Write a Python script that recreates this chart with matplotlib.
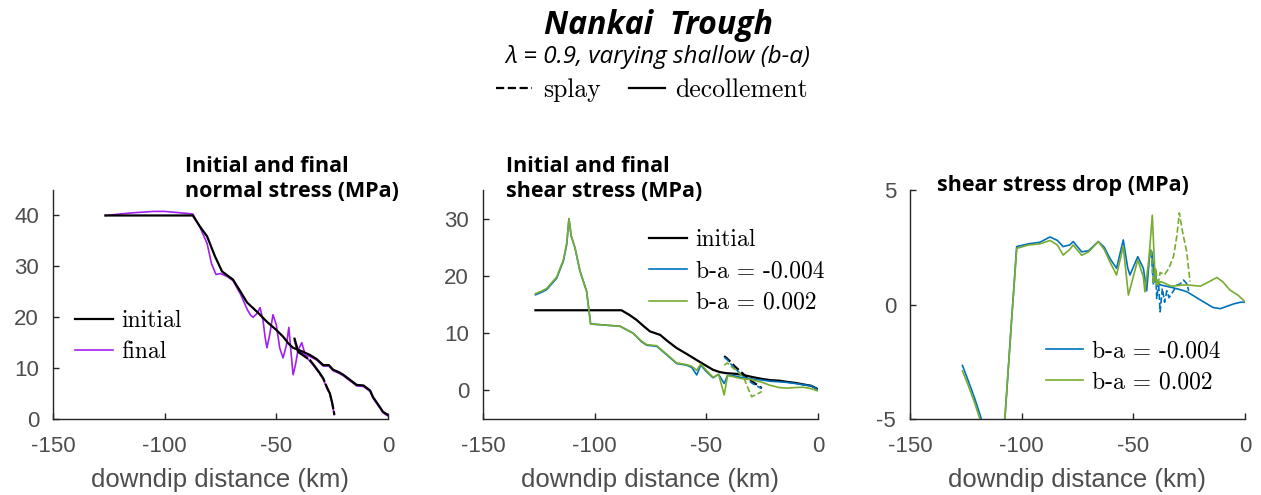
import numpy as np
import matplotlib
matplotlib.use("Agg")
import matplotlib.pyplot as plt
from matplotlib.lines import Line2D

plt.rcParams['axes.unicode_minus'] = False
plt.rcParams['font.family'] = ['Liberation Sans', 'DejaVu Sans']

# colours
c_blue = '#0072BD'
c_green = '#77AC30'
c_purple = '#A020F0'

# ---- panel 1: normal stress (MPa)
ns_x_init = [-126.5, -110, -100, -87.4, -84, -81, -77.5, -74.3, -69.4, -66, -63.1, -58, -54.2, -50, -47, -44.5, -42.5,
             -38.5, -35, -32, -29, -26.5, -24.6, -22, -20, -17, -14, -11, -9.5, -8, -6.7, -4.5, -2.2, 0]
ns_init = [40, 40, 40, 40, 37.7, 35.9, 32.0, 29.0, 27.4, 25.0, 22.9, 20.8, 19.1, 17.5, 16.2, 14.8, 14.0,
           13.3, 12.6, 11.8, 10.6, 10.6, 9.7, 9.2, 8.7, 7.7, 6.7, 6.6, 6.1, 5.6, 4.3, 2.9, 1.4, 0.8]
ns_x_final = [-126.5, -115, -105, -100, -95, -87.4, -84, -81, -79, -77, -75, -72, -69.4, -66, -63, -61.5, -60.4,
              -58.5, -57.3, -56, -55, -54.2, -53, -51.5, -50, -48.5, -47, -45.5, -44.4, -43.4, -42.5, -41.5,
              -40.3, -38.6, -37, -35, -32, -29, -26.5, -24.6, -22, -20, -17, -14, -11, -9.5, -8, -6.7, -4.5, -2.2, 0]
ns_final = [40, 40.5, 40.8, 40.8, 40.6, 40.3, 37.5, 34.5, 30.5, 28.4, 28.6, 28.0, 27.2, 24.5, 21.5, 20.4, 20.0,
            20.8, 21.9, 19.5, 16.0, 14.0, 16.5, 20.5, 18.5, 14.0, 12.0, 14.5, 18.0, 13.0, 8.7, 10.5,
            13.5, 15.0, 12.5, 12.3, 11.6, 10.4, 10.4, 9.5, 9.0, 8.5, 7.5, 6.5, 6.4, 5.9, 5.4, 4.1, 2.7, 1.2, 0.6]
ns_x_splay = [-42, -41, -40.3, -38, -35, -33, -31, -29, -27.4, -26, -25, -24]
ns_init_splay = [16, 14.5, 13.2, 12.5, 11.6, 10.5, 9.3, 8.0, 6.3, 5.0, 3.2, 0.8]
ns_final_splay = [15.5, 14.0, 13.5, 12.8, 11.4, 10.3, 9.1, 7.8, 6.1, 4.8, 3.0, 0.7]

# ---- panel 2: shear stress (MPa)
ss_x_init = [-126.5, -110, -100, -88, -84.5, -81.2, -78, -75.2, -70.7, -67, -63.3, -58.5, -54.3, -50.5, -47, -44,
             -41, -37, -33.5, -29, -25, -21.5, -17.5, -14, -10, -6.7, -3, 0]
ss_init = [14, 14, 14, 14, 13.2, 12.3, 11.2, 10.3, 9.7, 8.5, 7.4, 6.3, 5.3, 4.4, 3.6, 3.2,
           3.0, 2.9, 2.7, 2.3, 2.0, 1.8, 1.7, 1.5, 1.3, 1.05, 0.8, 0.2]
ss_x_final = [-126.5, -124, -121.5, -117, -114, -112.5, -111.5, -110.5, -108.8, -106.6, -103.6, -101.8, -95, -88.6,
              -82.8, -79, -76.7, -72.2, -67.7, -63.3, -58.8, -56.5, -54.3, -52.5, -50, -47, -44.5, -42, -40.5,
              -38, -34.9, -30, -25, -21.5, -17.5, -14, -10, -6.7, -3, 0]
ss_final_neg = [16.7, 17.1, 17.6, 19.6, 22.6, 25.5, 30, 27, 24.9, 20.9, 17.3, 11.6, 11.4, 11.2,
                10.0, 8.5, 7.9, 7.7, 6.2, 4.7, 4.4, 4.0, 2.7, 4.4, 3.3, 2.2, 2.8, 1.2, 2.6,
                2.6, 2.3, 2.0, 1.8, 1.6, 1.5, 1.4, 1.2, 1.0, 0.8, 0.1]
ss_final_pos = [16.9, 17.3, 17.8, 19.8, 22.8, 25.7, 30, 27, 24.9, 20.9, 17.3, 11.6, 11.4, 11.2,
                10.0, 8.6, 8.0, 7.8, 6.3, 4.8, 4.5, 4.2, 3.5, 4.6, 3.5, 2.3, 2.8, -0.8, 2.6,
                2.4, 2.1, 1.9, 1.4, 0.9, 0.5, 0.4, 0.5, 0.55, 0.3, -0.1]
ss_x_splay = [-42, -40.5, -39, -37, -35, -33, -31.9, -29.7, -27, -25.2]
ss_init_splay = [6.0, 5.5, 4.9, 4.1, 3.4, 2.7, 2.3, 1.6, 0.9, 0.4]
ss_neg_splay = [5.8, 5.3, 4.6, 3.8, 3.0, 2.3, 2.0, 1.3, 0.7, 0.3]
ss_pos_splay = [4.4, 4.8, 4.2, 3.6, 2.9, 2.0, 0.9, -1.1, -0.6, -0.2]

# ---- panel 3: shear stress drop (MPa)
sd_x_neg = [-126.5, -124, -121, -118, -112.5, -107.5, -104.5, -102.2, -97, -91.8, -87.3, -84, -81.4, -78.5, -76.9,
            -73.1, -70, -65.7, -63, -60.4, -57.5, -54.5, -52.5, -51.5, -48, -45.5, -44, -42.5, -41.7, -40.3,
            -37.6, -33, -29, -26, -20, -14.3, -11, -5, -2, 0]
sd_neg = [-2.66, -3.3, -4.1, -5.0, -10, -5, -0.7, 2.53, 2.65, 2.72, 2.95, 2.8, 2.53, 2.6, 2.75,
          2.3, 2.35, 2.75, 2.5, 2.0, 1.58, 2.82, 1.6, 1.29, 2.09, 1.58, 0.6, 2.38, 2.3, 1.0,
          0.85, 0.75, 0.65, 0.56, 0.2, -0.13, -0.18, 0.03, 0.1, 0.1]
sd_x_pos = [-126.5, -124, -121, -118, -112.5, -107.5, -104.5, -102.2, -97, -91.8, -87.3, -84, -81.4, -78.5, -76.9,
            -73.1, -70, -65.7, -63, -60.4, -57.5, -54.5, -52.2, -48, -45.5, -44.8, -43, -41.5, -40.3, -39.5,
            -37.6, -33, -28, -25, -20, -16, -12.6, -10, -6.7, -3, 0]
sd_pos = [-2.9, -3.5, -4.3, -5.2, -10, -5, -0.7, 2.45, 2.6, 2.65, 2.8, 2.6, 2.16, 2.4, 2.6,
          2.15, 2.3, 2.75, 2.4, 1.85, 1.29, 2.53, 0.41, 1.95, 1.2, 0.55, 2.0, 3.9, 1.3, 0.85,
          1.0, 0.8, 0.85, 0.85, 0.8, 1.0, 1.18, 1.0, 0.63, 0.4, 0.12]
sd_x_splay_neg = [-42, -41, -40, -39.5, -38.7, -38, -37, -36, -35, -34, -32, -30.5, -29, -27.5, -26, -25.2]
sd_neg_splay = [2.3, 0.85, 1.5, 0.26, 1.0, -0.32, 0.7, 0.1, 0.6, 0.3, 0.6, 0.85, 0.9, 1.07, 0.9, 0.6]
sd_x_splay_pos = [-42, -41, -40, -39, -38, -36, -34, -32, -30.5, -29.4, -28, -26.1, -24.6]
sd_pos_splay = [2.4, 0.9, 1.6, 0.8, 1.4, 1.3, 1.6, 2.1, 3.0, 4.0, 3.2, 2.3, 1.0]

leg_font = {'family': 'cmr10', 'size': 17}

fig = plt.figure(figsize=(12.61, 4.95), dpi=100)
ax1 = fig.add_axes([0.042, 0.1535, 0.2657, 0.4626])
ax2 = fig.add_axes([0.383, 0.1535, 0.2657, 0.4626])
ax3 = fig.add_axes([0.7216, 0.1535, 0.2657, 0.4626])

leg_kw = dict(loc='center left', frameon=False, prop=leg_font, borderpad=0, borderaxespad=0,
              handlelength=1.6, handletextpad=0.35, labelspacing=0.4)

# normal stress
ax1.plot(ns_x_final, ns_final, color=c_purple, lw=1.2, label='final')
ax1.plot(ns_x_splay, ns_final_splay, color=c_purple, lw=1.2, dashes=(12, 1))
ax1.plot(ns_x_init, ns_init, color='k', lw=1.6, label='initial')
ax1.plot(ns_x_splay, ns_init_splay, color='k', lw=1.6, dashes=(12, 1))
ax1.set_ylim(0, 45)
ax1.set_yticks([0, 10, 20, 30, 40])
h, l = ax1.get_legend_handles_labels()
ax1.legend(h[::-1], l[::-1], bbox_to_anchor=(0.065, 0.36), **leg_kw)

# shear stress
ax2.plot(ss_x_init, ss_init, color='k', lw=1.6, label='initial')
ax2.plot(ss_x_splay, ss_init_splay, color='k', lw=1.6, ls='--')
ax2.plot(ss_x_final, ss_final_neg, color=c_blue, lw=1.2, label='b-a = -0.004')
ax2.plot(ss_x_splay, ss_neg_splay, color=c_blue, lw=1.2, ls='--')
ax2.plot(ss_x_final, ss_final_pos, color=c_green, lw=1.2, label='b-a = 0.002')
ax2.plot(ss_x_splay, ss_pos_splay, color=c_green, lw=1.2, ls='--')
ax2.set_ylim(-5, 35)
ax2.set_yticks([0, 10, 20, 30])
ax2.legend(bbox_to_anchor=(0.497, 0.645), **leg_kw)

# shear stress drop
ax3.plot(sd_x_neg, sd_neg, color=c_blue, lw=1.2, label='b-a = -0.004')
ax3.plot(sd_x_splay_neg, sd_neg_splay, color=c_blue, lw=1.2, ls='--')
ax3.plot(sd_x_pos, sd_pos, color=c_green, lw=1.2, label='b-a = 0.002')
ax3.plot(sd_x_splay_pos, sd_pos_splay, color=c_green, lw=1.2, ls='--')
ax3.set_ylim(-5, 5)
ax3.set_yticks([-5, 0, 5])
ax3.legend(bbox_to_anchor=(0.405, 0.228), **leg_kw)

for ax in (ax1, ax2, ax3):
    ax.set_xlim(-150, 0)
    ax.set_xticks([-150, -100, -50, 0])
    ax.spines['top'].set_visible(False)
    ax.spines['right'].set_visible(False)
    for s in ('left', 'bottom'):
        ax.spines[s].set_color('#262626')
        ax.spines[s].set_linewidth(1.0)
    ax.tick_params(direction='in', length=4, width=1.0, colors='#262626', labelcolor='#4d4d4d',
                   labelsize=16)
    ax.tick_params(axis='x', pad=12)
    ax.tick_params(axis='y', pad=10)
    ax.set_xlabel('downdip distance (km)', fontsize=18.5, color='#4d4d4d', labelpad=8)

# panel titles
title_kw = dict(family=['Open Sans', 'DejaVu Sans'], weight='bold', fontsize=15.5, ha='left', va='center',
                linespacing=1.25)
fig.text(185 / 1261, 1 - 179 / 495, 'Initial and final\nnormal stress (MPa)', **title_kw)
fig.text(506 / 1261, 1 - 179 / 495, 'Initial and final\nshear stress (MPa)', **title_kw)
fig.text(937 / 1261, 1 - 186 / 495, 'shear stress drop (MPa)', **title_kw)

# figure heading
fig.text(0.522, 1 - 26 / 495, 'Nankai  Trough', family=['Open Sans', 'DejaVu Sans'], style='italic',
         weight='bold', fontsize=23, ha='center', va='center')
fig.text(0.522, 1 - 57 / 495, 'λ = 0.9, varying shallow (b-a)', family=['Open Sans', 'DejaVu Sans'],
         style='italic', fontsize=17.5, ha='center', va='center')
fig.legend(handles=[Line2D([], [], color='k', lw=1.6, ls='--'), Line2D([], [], color='k', lw=1.6)],
           labels=['splay', 'decollement'], loc='center', bbox_to_anchor=(0.517, 1 - 90 / 495), ncol=2,
           frameon=False, prop={'family': 'cmr10', 'size': 18.5}, borderpad=0, handlelength=1.4,
           handletextpad=0.4, columnspacing=1.1)

fig.savefig('out.png', dpi=100)
